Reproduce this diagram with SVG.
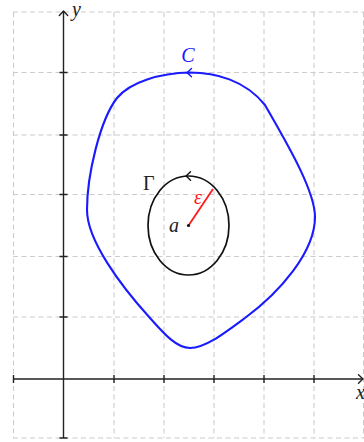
<svg xmlns="http://www.w3.org/2000/svg" width="364" height="442" viewBox="0 0 364 442">
<style>
.grid{stroke:#cccccc;stroke-width:1.1;stroke-dasharray:5 3.5;fill:none}
.axis{stroke:#222;stroke-width:1.4;fill:none}
.tip{fill:none;stroke-width:1.4;stroke-linecap:round;stroke-linejoin:round}
.lbl{font-family:"Liberation Serif","Times New Roman",serif;font-size:20px;font-style:italic;fill:#222}
</style>
<defs>
<path id="tip" d="M-4.5,-4.2 Q-1.2,-1 0,0 Q-1.2,1 -4.5,4.2"/>
</defs>
<rect width="364" height="442" fill="#fff"/>
<g id="grid" class="grid">
<path d="M13.5,12V438M114,12V438M164,12V438M214,12V438M264,12V438M314,12V438M363.5,12V438"/>
<path d="M13,12H364M13,72.5H364M13,135H364M13,194.5H364M13,256.5H364M13,317H364M13,438H364"/>
</g>
<g id="axes">
<path class="axis" d="M13.5,379H362M63.5,438V12"/>
<path class="axis" d="M13.5,375V383M114,375V383M164,375V383M214,375V383M264,375V383M314,375V383"/>
<path class="axis" d="M59.5,72.5H67.5M59.5,135H67.5M59.5,194.5H67.5M59.5,256.5H67.5M59.5,317H67.5M59.5,438H67.5"/>
<use href="#tip" class="tip" stroke="#222" transform="translate(363,379)"/>
<use href="#tip" class="tip" stroke="#222" transform="translate(63.5,11) rotate(-90)"/>
<text class="lbl" x="72" y="16" font-size="17">y</text>
<text class="lbl" x="356" y="399" font-size="18">x</text>
</g>
<g id="curveC">
<path d="M190,72.5C160,73 130,82 117,98C100,120 87,175 87,210C87,240 120,285 150,318C165,335 177,348 190,348C205,348 222,335 245,318C280,292 315,252 315,217C315,190 285,140 265,105C245,80 215,72.5 190,72.5Z" fill="none" stroke="#1a1aff" stroke-width="2.1"/>
<use href="#tip" class="tip" stroke="#1a1aff" transform="translate(187,72.6) rotate(180)"/>
<text class="lbl" x="188" y="62" text-anchor="middle" style="fill:#1a1aff">C</text>
</g>
<g id="circleGamma">
<ellipse cx="188.5" cy="225.5" rx="40.5" ry="49.5" fill="none" stroke="#111" stroke-width="1.7"/>
<use href="#tip" class="tip" stroke="#111" transform="translate(186,176) rotate(180)"/>
<text class="lbl" x="143" y="190" style="font-style:normal">Γ</text>
</g>
<g id="radius">
<line x1="188.5" y1="225.5" x2="213" y2="189" stroke="#ff1a1a" stroke-width="1.8"/>
<circle cx="188.5" cy="225.5" r="1.6" fill="#111"/>
<text class="lbl" x="194" y="204" style="fill:#ff1a1a" font-size="18">ε</text>
<text class="lbl" x="169" y="232">a</text>
</g>
</svg>
